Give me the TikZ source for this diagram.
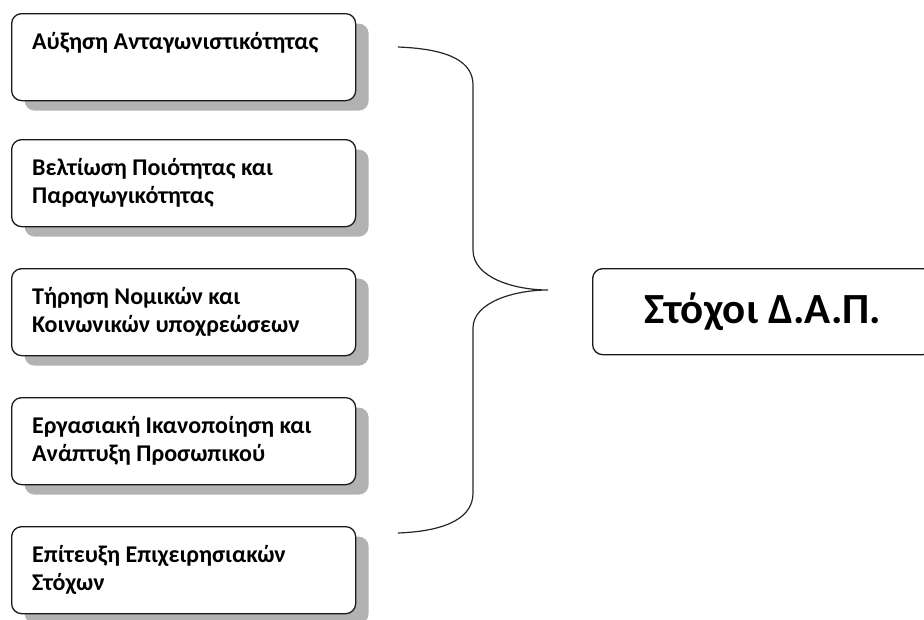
\documentclass[tikz,border=0pt]{standalone}
\usepackage{fontspec}
\setmainfont{Carlito}
\usetikzlibrary{shadows,positioning,calc}

\newcommand{\firststrut}{\rule{0pt}{20pt}}

\tikzset{
  goal/.style={draw=black!90, line width=1.3pt, rounded corners=10pt,
    fill=white, minimum width=344pt, minimum height=87pt, inner sep=0pt,
    anchor=north west,
    drop shadow={shadow xshift=13pt, shadow yshift=-10pt,
      fill=black!30, opacity=1}},
  goaltxt/.style={anchor=north west, inner sep=0pt, align=left,
    font=\fontsize{24}{28}\selectfont\bfseries},
  mainbox/.style={draw=black!90, line width=1.3pt, rounded corners=10pt,
    fill=white, minimum width=340pt, minimum height=86pt, inner sep=0pt,
    anchor=north west, font=\fontsize{43}{48}\selectfont\bfseries},
  brace/.style={line width=1.2pt, black!85}
}

\begin{document}
\begin{tikzpicture}[x=1pt,y=-1pt]
  \useasboundingbox (0,0) rectangle (924,619);

  % goal boxes on the left
  \foreach \t/\txt [count=\i] in {
    13/{Αύξηση Ανταγωνιστικότητας},
    139/{Βελτίωση Ποιότητας και\\Παραγωγικότητας},
    268/{Τήρηση Νομικών και\\Κοινωνικών υποχρεώσεων},
    397/{Εργασιακή Ικανοποίηση και\\Ανάπτυξη Προσωπικού},
    526/{Επίτευξη Επιχειρησιακών\\Στόχων}} {
    \node[goal] (g\i) at (11,\t) {};
    \node[goaltxt] (t\i) at ([xshift=21pt,yshift=-16pt]g\i.north west)
      {\firststrut\txt};
  }

  \node[mainbox] (stoxoi) at (592,268) {Στόχοι Δ.Α.Π.};

  % the brace
  \coordinate (btop) at (398,47);
  \coordinate (bbot) at (398,533);
  \coordinate (btip) at (548,290);
  \draw[brace] (btop) .. controls (450,49) and (473,62) .. (473,85)
    -- (473,250) .. controls (473,278) and (515,290) .. (btip)
    .. controls (515,290) and (473,302) .. (473,328)
    -- (473,493) .. controls (473,516) and (450,531) .. (bbot);

\end{tikzpicture}
\end{document}
